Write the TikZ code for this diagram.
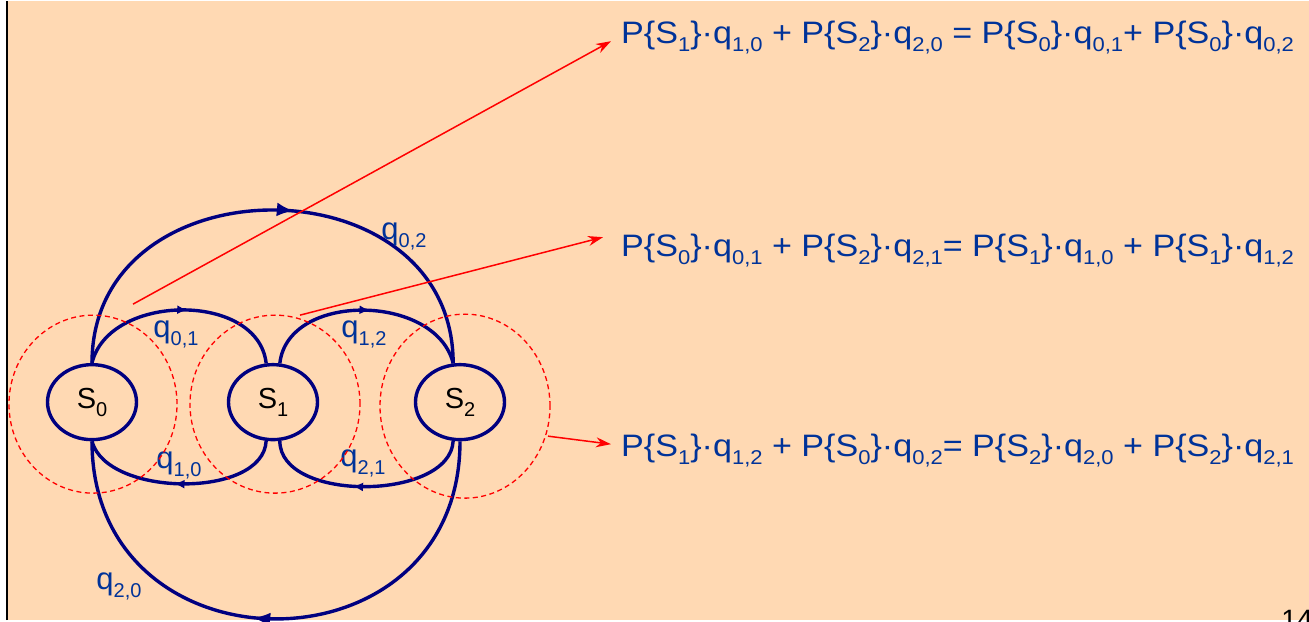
\documentclass[tikz,border=0pt]{standalone}
\usepackage{fontspec}
\setmainfont{Liberation Sans}
\usepackage{graphicx}
\definecolor{slBg}{HTML}{FFD9B3}
\definecolor{slNavy}{HTML}{000080}
\definecolor{slBlue}{HTML}{003399}
\definecolor{slRed}{HTML}{FF0000}
\usetikzlibrary{shapes.geometric,arrows.meta,decorations.markings}
\newcommand{\lo}[1]{\raisebox{-8pt}{\fontsize{20}{20}\selectfont #1}}
\newcommand{\wide}[1]{\scalebox{1.1}[1]{#1}}

\begin{document}
\begin{tikzpicture}[x=1pt,y=1pt,
    state/.style={ellipse,draw=slNavy,line width=3.4pt,minimum width=89pt,
                  minimum height=75pt,inner sep=0pt,font=\fontsize{29}{29}\selectfont},
    flow/.style={draw=slNavy,line width=3.4pt},
    midbig/.style={postaction={decorate},decoration={markings,
        mark=at position #1 with {\arrow{Latex[length=17pt,width=14pt]}}}},
    midsmall/.style={postaction={decorate},decoration={markings,
        mark=at position #1 with {\arrow{Latex[length=10pt,width=9pt]}}}},
    rate/.style={text=slBlue,inner sep=0pt,font=\fontsize{31}{31}\selectfont},
    cut/.style={draw=slRed,line width=1.3pt,dash pattern=on 5pt off 3.5pt},
    balance/.style={text=slBlue,anchor=base west,inner xsep=10pt,inner ysep=0pt,
                    font=\fontsize{31}{31}\selectfont},
    pointer/.style={draw=slRed,line width=1.5pt,-{Stealth[length=15pt,width=10pt]}}]
  \fill[white] (0,0) rectangle (1309,619);
  \fill[slBg] (8,0) rectangle (1309,619);
  \draw[line width=2.3pt] (7,0) -- (7,619);
  \useasboundingbox (0,0) rectangle (1309,619);

  \node[state] (S0) at (92,218) {S\lo{0}};
  \node[state] (S1) at (273,218) {S\lo{1}};
  \node[state] (S2) at (460,218) {S\lo{2}};

  \draw[flow,midbig=0.54] (S0.north) to[out=90,in=90,looseness=1.45] (S2.100);
  \draw[flow,midbig=0.54] (S2.south) to[out=-90,in=-90,looseness=1.65] (S0.south);
  \draw[flow,midsmall=0.53] (S0.north) .. controls +(17,70) and +(-8,72) .. (S1.100);
  \draw[flow,midsmall=0.52] (S1.80) .. controls +(8,72) and +(-17,70) .. (S2.100);
  \draw[flow,midsmall=0.53] (S1.260) .. controls +(-3,-58) and +(15,-56) .. (S0.south);
  \draw[flow,midsmall=0.56] (S2.260) .. controls +(-3,-60) and +(0,-62) .. (S1.280);

  \node[rate] (r02) at (404,384) {q\lo{0,2}};
  \node[rate] (r01) at (176,286) {q\lo{0,1}};
  \node[rate] (r12) at (364,286) {q\lo{1,2}};
  \node[rate] (r10) at (179,155) {q\lo{1,0}};
  \node[rate] (r21) at (363,157) {q\lo{2,1}};
  \node[rate] (r20) at (119,34) {q\lo{2,0}};

  \draw[cut] ([shift={(1,-2)}]S0.center) ellipse [x radius=84, y radius=89];
  \draw[cut] ([shift={(2,-2)}]S1.center) ellipse [x radius=85, y radius=89];
  \draw[cut] ([shift={(5,-4)}]S2.center) ellipse [x radius=85, y radius=92];

  \node[balance] (eq1) at (611,577)
    {\wide{P\{S\lo{1}\}·q\lo{1,0} + P\{S\lo{2}\}·q\lo{2,0} = P\{S\lo{0}\}·q\lo{0,1}+ P\{S\lo{0}\}·q\lo{0,2}}};
  \node[balance] (eq2) at (611,364)
    {\wide{P\{S\lo{0}\}·q\lo{0,1} + P\{S\lo{2}\}·q\lo{2,1}= P\{S\lo{1}\}·q\lo{1,0} + P\{S\lo{1}\}·q\lo{1,2}}};
  \node[balance] (eq3) at (611,164)
    {\wide{P\{S\lo{1}\}·q\lo{1,2} + P\{S\lo{0}\}·q\lo{0,2}= P\{S\lo{2}\}·q\lo{2,0} + P\{S\lo{2}\}·q\lo{2,1}}};

  \coordinate (t0) at (133,316);
  \coordinate (t1) at (300,305);
  \coordinate (t2) at (548,184);
  \draw[pointer] (t0) -- ([yshift=-4pt]eq1.west);
  \draw[pointer] (t1) -- ([yshift=13pt,xshift=-8pt]eq2.west);
  \draw[pointer] (t2) -- ([yshift=6pt]eq3.west);

  \node[font=\fontsize{28}{28}\selectfont,anchor=base] (page) at (1297,-9) {14};
\end{tikzpicture}
\end{document}
